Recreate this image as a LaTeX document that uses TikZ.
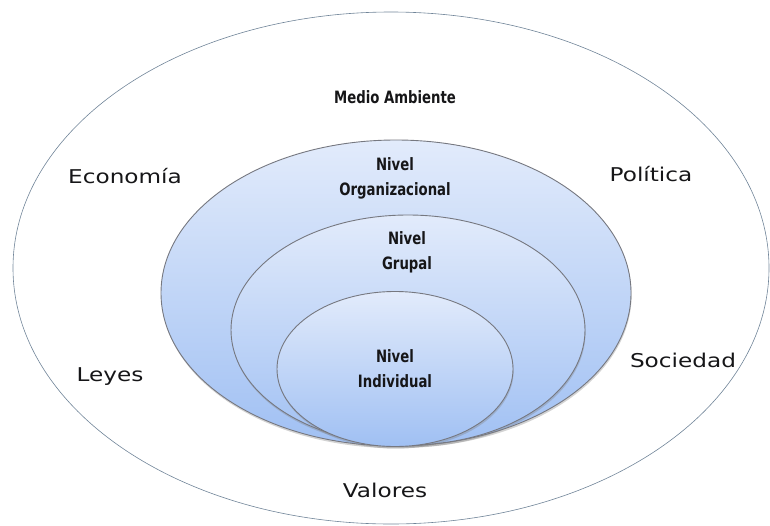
\documentclass[tikz,border=0pt]{standalone}
\usepackage{fontspec}
\usepackage{xcolor}
\usepackage{tikz}
\usetikzlibrary{shapes, positioning, shadows}
\newfontfamily\levelfont[FakeStretch=0.78]{DejaVu Sans}
\newfontfamily\contextfont[FakeStretch=1.22]{DejaVu Sans}
\definecolor{ringline}{RGB}{118, 120, 128}
\definecolor{outerline}{RGB}{112, 132, 152}
\definecolor{ringtop}{RGB}{226, 235, 251}
\definecolor{ringbottom}{RGB}{160, 192, 243}
\definecolor{labeltext}{RGB}{22, 22, 24}

\begin{document}
\begin{tikzpicture}[
    x=1pt, y=-1pt,
    ring/.style={ellipse, draw=ringline, line width=0.9pt, inner sep=0pt, top color=ringtop, bottom color=ringbottom,
        drop shadow={opacity=0.35, shadow xshift=0.6pt, shadow yshift=-2.2pt}},
    level/.style={align=center, text=labeltext, font=\levelfont\bfseries\fontsize{17}{25}\selectfont},
    context/.style={text=labeltext, font=\contextfont\fontsize{19}{22}\selectfont}
]
\useasboundingbox (0,0) rectangle (770,525);

% environment
\node[ellipse, draw=outerline, line width=0.6pt, inner sep=0pt, minimum width=756pt, minimum height=512pt] (ambiente) at (391,268) {};

% levels
\node[ring, minimum width=470pt, minimum height=306pt] (organizacional) at (396,293) {};
\node[ring, minimum width=354pt, minimum height=230pt] (grupal) at (408,330) {};
\node[ring, minimum width=236pt, minimum height=155pt] (individual) at (395,369) {};

\node[level] (medio) at (395,97) {Medio Ambiente};
\node[level] (orgtext) at (395,178) {Nivel\\Organizacional};
\node[level] (gruptext) at (407,252) {Nivel\\Grupal};
\node[level] (indtext) at (395,369) {Nivel\\Individual};

% surrounding factors
\node[context] (economia) at (125,176) {Economía};
\node[context] (politica) at (651,174) {Política};
\node[context] (sociedad) at (683,360) {Sociedad};
\node[context] (leyes) at (110,377) {Leyes};
\node[context] (valores) at (385,490) {Valores};

\end{tikzpicture}
\end{document}
